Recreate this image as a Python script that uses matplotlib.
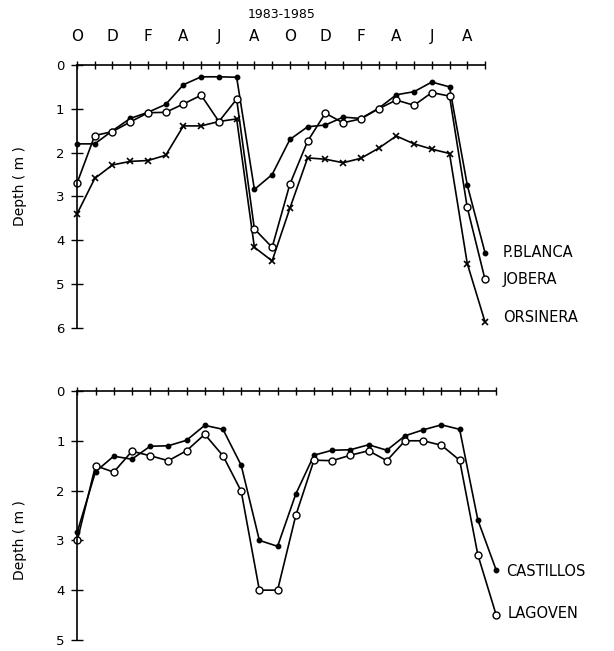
import numpy as np
from matplotlib import pyplot as plt

plt.rcParams["font.family"] = "DejaVu Sans"

# months since October 1983 (0 = Oct 1983 ... 23 = Sep 1985)
months = np.arange(24)
month_letters = ["O", "", "D", "", "F", "", "A", "", "J", "", "A", "",
                 "O", "", "D", "", "F", "", "A", "", "J", "", "A", ""]

p_blanca = [1.80, 1.80, 1.50, 1.22, 1.08, 0.90, 0.45, 0.27, 0.27, 0.28, 2.84, 2.50,
            1.70, 1.41, 1.37, 1.19, 1.22, 0.99, 0.68, 0.61, 0.39, 0.50, 2.74, 4.28]
jobera = [2.70, 1.61, 1.52, 1.30, 1.09, 1.08, 0.89, 0.69, 1.29, 0.78, 3.74, 4.16,
          2.72, 1.74, 1.10, 1.32, 1.23, 1.00, 0.80, 0.92, 0.63, 0.71, 3.25, 4.89]
orsinera = [3.40, 2.59, 2.28, 2.20, 2.18, 2.06, 1.39, 1.39, 1.29, 1.23, 4.16, 4.47,
            3.27, 2.12, 2.15, 2.23, 2.13, 1.90, 1.62, 1.80, 1.92, 2.02, 4.53, 5.86]
castillos = [2.83, 1.62, 1.31, 1.37, 1.11, 1.10, 0.99, 0.69, 0.77, 1.49, 3.00, 3.12,
             2.07, 1.29, 1.19, 1.18, 1.08, 1.19, 0.90, 0.78, 0.68, 0.77, 2.59, 3.59]
lagoven = [3.00, 1.50, 1.63, 1.21, 1.30, 1.40, 1.20, 0.87, 1.30, 2.01, 4.00, 4.00,
           2.50, 1.39, 1.40, 1.29, 1.20, 1.40, 1.00, 1.00, 1.09, 1.39, 3.29, 4.49]

fig = plt.figure(figsize=(6.14, 6.51), dpi=100)
ax1 = fig.add_axes([0.1254, 0.4962, 0.6645, 0.4040])
ax2 = fig.add_axes([0.1259, 0.0170, 0.6820, 0.3824])

dot = dict(color="black", marker="o", markersize=3.2, lw=1.2, clip_on=False)
ring = dict(color="black", marker="o", markersize=5, markerfacecolor="white",
            markeredgewidth=1.0, lw=1.2, clip_on=False)
cross = dict(color="black", marker="x", markersize=5, markeredgewidth=1.2,
             lw=1.2, clip_on=False)

ax1.plot(months, orsinera, **cross)
ax1.plot(months, p_blanca, **dot)
ax1.plot(months, jobera, **ring)
ax2.plot(months, castillos, **dot)
ax2.plot(months, lagoven, **ring)


def style(ax, ymax, show_months):
    ax.set_xlim(0, 23)
    ax.set_ylim(ymax, 0)
    for side in ("right", "bottom"):
        ax.spines[side].set_visible(False)
    for side in ("left", "top"):
        ax.spines[side].set_linewidth(1.2)
    ax.xaxis.tick_top()
    ax.set_xticks(months)
    if show_months:
        ax.set_xticklabels(month_letters, fontsize=11)
    else:
        ax.set_xticklabels([])
    ax.tick_params(axis="x", direction="inout", length=6, width=1, pad=12)
    ax.set_yticks(range(ymax + 1))
    ax.tick_params(axis="y", direction="inout", length=8, width=1, pad=5,
                   labelsize=9.5)


style(ax1, 6, True)
style(ax2, 5, False)

label_kw = dict(textcoords="offset points", va="center", ha="left", fontsize=10.5)
ax1.annotate("P.BLANCA", (23, p_blanca[-1]), xytext=(13, 0), **label_kw)
ax1.annotate("JOBERA", (23, jobera[-1]), xytext=(13, 0), **label_kw)
ax1.annotate("ORSINERA", (23, orsinera[-1]), xytext=(13, 3), **label_kw)
ax2.annotate("CASTILLOS", (23, castillos[-1]), xytext=(7, -1), **label_kw)
ax2.annotate("LAGOVEN", (23, lagoven[-1]), xytext=(8, 1), **label_kw)

fig.text(0.459, 1 - 15 / 651, "1983-1985", ha="center", va="center", fontsize=9)
fig.text(20 / 614, 1 - 186 / 651, "Depth ( m )", rotation=90, ha="center",
         va="center", fontsize=10)
fig.text(20 / 614, 1 - 540 / 651, "Depth ( m )", rotation=90, ha="center",
         va="center", fontsize=10)

plt.savefig("out.png", dpi=100)
